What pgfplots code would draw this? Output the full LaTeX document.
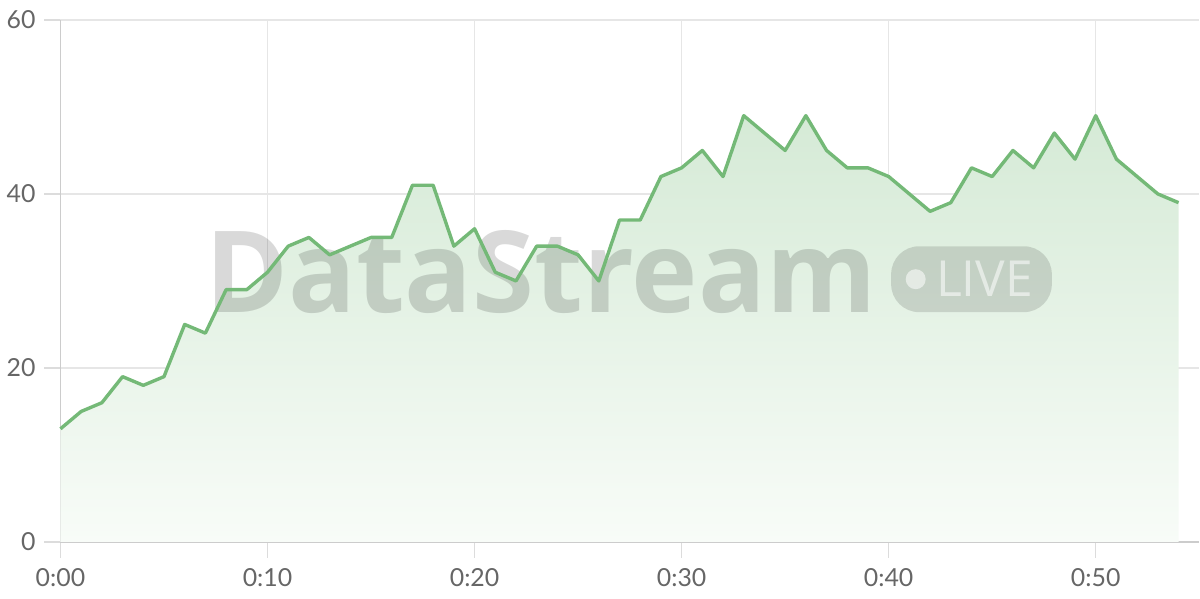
\documentclass[border=0pt]{standalone}
\usepackage{pgfplots}
\pgfplotsset{compat=1.18}
\usepackage{fontspec}
\setmainfont{Lato}
\newfontfamily\wmfont{Open Sans}
\definecolor{linegreen}{RGB}{116,185,119}
\definecolor{filltop}{RGB}{213,234,214}
\definecolor{fillbot}{RGB}{248,252,248}
\definecolor{gridgray}{RGB}{230,230,230}
\definecolor{tickgray}{RGB}{220,220,220}
\definecolor{axisgray}{RGB}{204,204,204}
\definecolor{labelgray}{RGB}{102,102,102}
\pgfplotstableread{
x y
0 13
1 15
2 16
3 19
4 18
5 19
6 25
7 24
8 29
9 29
10 31
11 34
12 35
13 33
14 34
15 35
16 35
17 41
18 41
19 34
20 36
21 31
22 30
23 34
24 34
25 33
26 30
27 37
28 37
29 42
30 43
31 45
32 42
33 49
34 47
35 45
36 49
37 45
38 43
39 43
40 42
41 40
42 38
43 39
44 43
45 42
46 45
47 43
48 47
49 44
50 49
51 44
52 42
53 40
54 39
}\datatable
\begin{document}
\begin{tikzpicture}
\begin{axis}[
  name=ax,
  scale only axis,
  width=570.5bp, height=261.5bp,
  xmin=0, xmax=55, ymin=0, ymax=60,
  axis x line=bottom, axis y line=left,
  axis line style={draw=axisgray, line width=0.75bp, -},
  xtick={0,10,20,30,40,50},
  xticklabels={0:00,0:10,0:20,0:30,0:40,0:50},
  ytick={0,20,40,60},
  tick align=outside,
  major tick length=8bp,
  tick style={draw=tickgray, line width=0.75bp},
  grid=major,
  major grid style={draw=gridgray, line width=0.6bp},
  ticklabel style={font=\fontsize{12.5}{15}\selectfont, text=labelgray},
  /pgf/number format/assume math mode=true,
  yticklabel style={xshift=-1bp},
  xticklabel style={yshift=-2bp},
  clip=false,
]
\addplot[draw=none, top color=filltop, bottom color=fillbot] table[x=x,y=y]{\datatable} \closedcycle;
\node[font=\wmfont\bfseries\fontsize{57}{57}\selectfont, text=black, opacity=0.15, anchor=base, xscale=0.99] at (axis cs:23.2,26.4) {DataStream};
\node[fill=black, fill opacity=0.13, rounded corners=14bp, minimum width=80.5bp, minimum height=33bp, inner sep=0pt] (pill) at (axis cs:44.0,30.2) {};
\fill[white, opacity=0.55] ([xshift=12.5bp]pill.west) circle (5bp);
\node[font=\wmfont\fontsize{25}{25}\selectfont, text=white, opacity=0.55, anchor=west, inner sep=0pt] at ([xshift=22.5bp]pill.west) {LIVE};
\addplot[draw=linegreen, line width=1.7bp, line join=round] table[x=x,y=y]{\datatable};
\end{axis}
\path[use as bounding box] ([shift={(-29.5bp,-28.5bp)}]ax.south west) rectangle ([shift={(0bp,10bp)}]ax.north east);
\end{tikzpicture}
\end{document}
